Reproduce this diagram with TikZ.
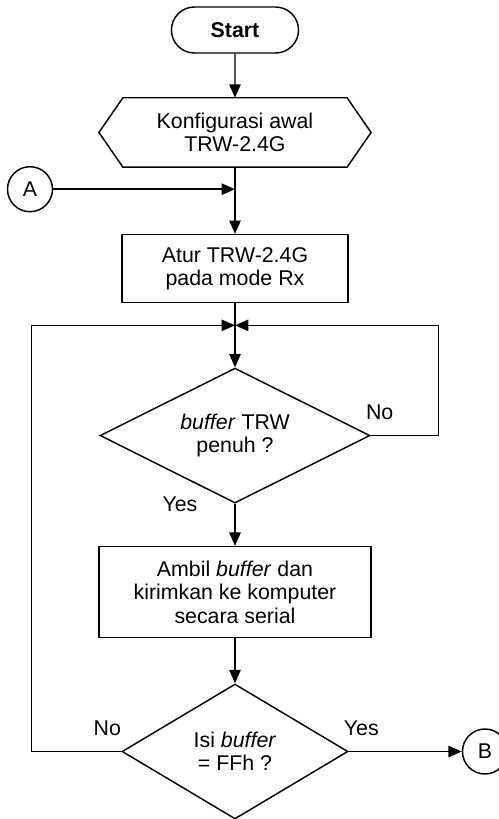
\documentclass[tikz,border=0pt]{standalone}
\usepackage{fontspec}
\setmainfont{Liberation Sans}
\usetikzlibrary{positioning,shapes.geometric,shapes.misc,arrows.meta}

\begin{document}
\begin{tikzpicture}[
    font=\fontsize{16}{17.6}\selectfont,
    line width=1.1pt,
    >={Triangle[length=10pt,width=8.5pt]},
    term/.style={draw,rounded rectangle,minimum width=102pt,minimum height=34.5pt,font=\fontsize{16}{17.6}\selectfont\bfseries},
    prep/.style={align=center,minimum width=167pt,minimum height=51pt,inner sep=0pt},
    proc/.style={draw,rectangle,align=center,inner sep=0pt},
    decide/.style={draw,diamond,aspect=2,align=center,inner sep=0pt},
    conn/.style={draw,circle,minimum size=33.75pt,inner sep=0pt},
    lbl/.style={inner sep=0pt},
  ]
  \clip (-176.25pt,22.5pt) rectangle (198pt,-591.75pt);
  \node[term] (start) at (0,0) {Start};
  \node[prep, below=33pt of start] (konf) {Konfigurasi awal\\TRW-2.4G};
  \draw (konf.north west) -- (konf.north east) -- ([xshift=18pt]konf.east)
    -- (konf.south east) -- (konf.south west) -- ([xshift=-18pt]konf.west) -- cycle;
  \node[conn] (a) at ([xshift=-153.75pt,yshift=-16.5pt]konf.south) {A};
  \node[proc, minimum width=169.5pt, minimum height=51pt, below=50pt of konf] (rx) {Atur TRW-2.4G\\pada mode Rx};
  \coordinate[below=16.5pt of rx] (j);
  \node[decide, minimum width=202.5pt, minimum height=101.25pt, below=48pt of rx] (penuh) {\textit{buffer} TRW\\penuh ?};
  \node[proc, minimum width=204pt, minimum height=68.25pt, below=31.5pt of penuh] (kirim) {Ambil \textit{buffer} dan\\kirimkan ke komputer\\secara serial};
  \node[decide, minimum width=169.5pt, minimum height=101.25pt, below=33.75pt of kirim] (ffh) {Isi \textit{buffer}\\= FFh ?};
  \node[conn, right=84.75pt of ffh] (b) {B};

  \node[lbl] (no1) at ([shift={(6.75pt,17.25pt)}]penuh.east) {No};
  \node[lbl] (yes1) at ([xshift=-41.25pt]penuh.south) {Yes};
  \node[lbl] (no2) at ([shift={(-10.5pt,17.6pt)}]ffh.west) {No};
  \node[lbl] (yes2) at ([shift={(9.4pt,17.6pt)}]ffh.east) {Yes};

  \draw[->] (start) -- (konf);
  \draw[->] (a) -- (a -| konf.south);
  \draw[->] (konf) -- (rx);
  \draw[->] (rx) -- (penuh);
  \draw[->] (penuh.east) -- ++(51pt,0) |- (j);
  \draw[->] (penuh) -- (kirim);
  \draw[->] (kirim) -- (ffh);
  \draw[->] (ffh.west) -- ++(-67.5pt,0) |- (j);
  \draw[->] (ffh) -- (b);
\end{tikzpicture}
\end{document}
